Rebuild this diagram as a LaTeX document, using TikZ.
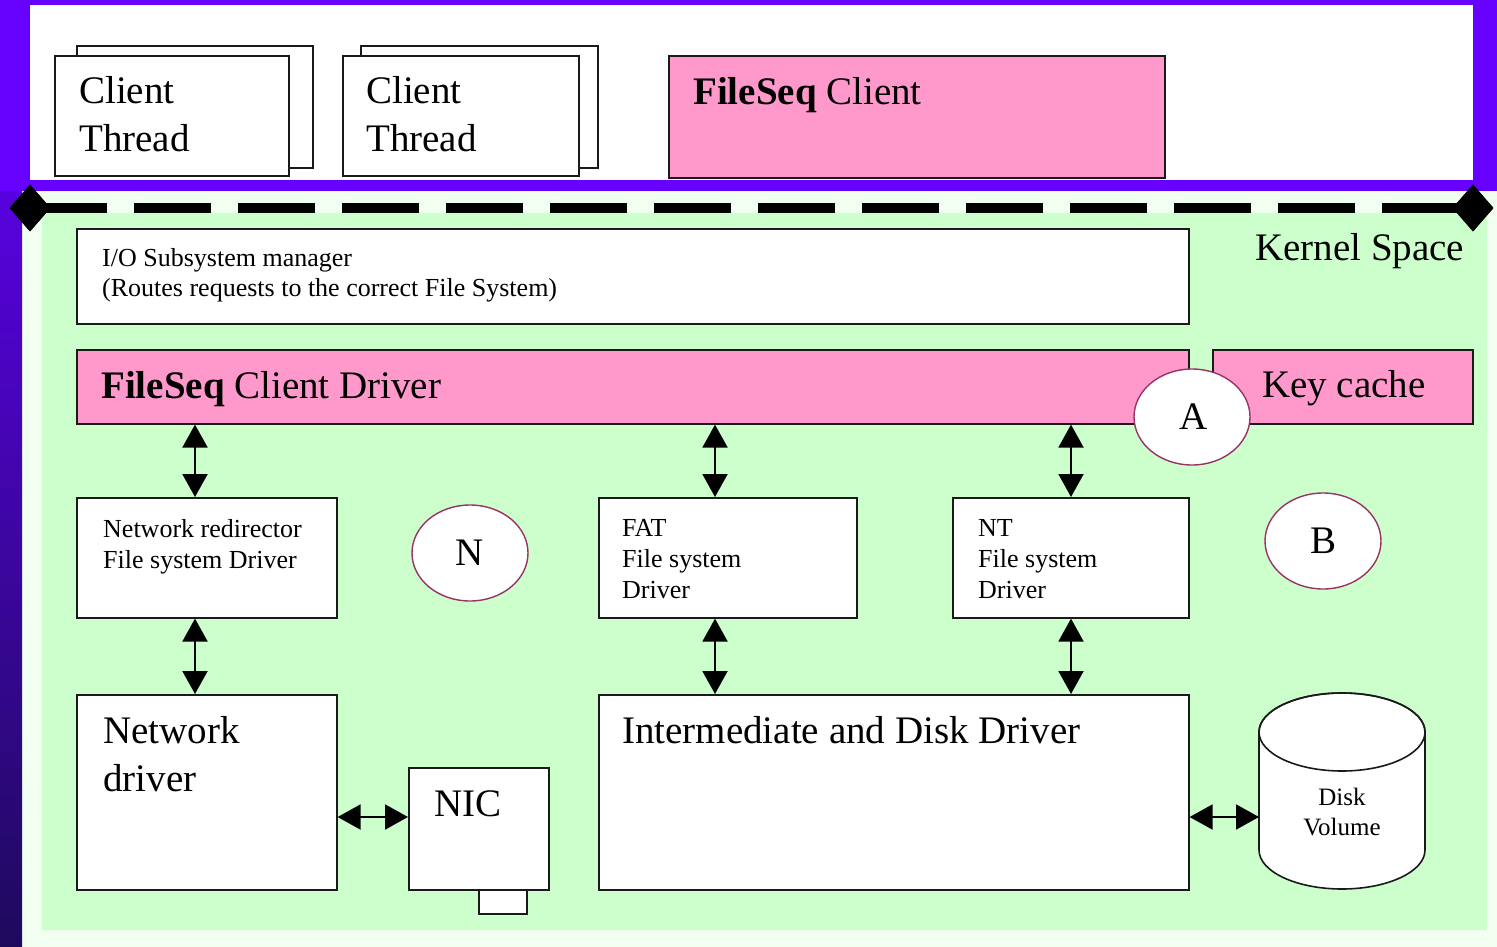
\documentclass[tikz,border=0pt]{standalone}
\usepackage{fontspec}
\setmainfont{Liberation Serif}
\usetikzlibrary{arrows.meta,shapes.geometric}
\definecolor{purp}{HTML}{6600FF}
\definecolor{darkp}{HTML}{1E0A5C}
\definecolor{pale}{HTML}{F0FFF0}
\definecolor{kgreen}{HTML}{CCFFCC}
\definecolor{pinkf}{HTML}{FF99CC}
\definecolor{maroonb}{HTML}{993366}
\definecolor{edgec}{HTML}{1A1A1A}
\begin{document}
\begin{tikzpicture}[x=1pt,y=-1pt,
 box/.style={draw=edgec,line width=1.6pt,fill=white,rectangle,inner sep=0pt,anchor=north west},
 pbox/.style={box,fill=pinkf},
 oval/.style={draw=maroonb,line width=1.4pt,fill=white,ellipse,minimum width=116pt,minimum height=96pt,inner sep=0pt,font=\fontsize{39}{39}\selectfont},
 big/.style={anchor=base west,inner sep=0pt,font=\fontsize{39}{48}\selectfont},
 small/.style={anchor=base west,inner sep=0pt,font=\fontsize{26}{31}\selectfont},
 dbl/.style={{Triangle[width=25pt,length=23pt]}-{Triangle[width=25pt,length=23pt]},line width=2pt,black},
 dia/.style={diamond,fill=black,minimum width=41pt,minimum height=47pt,inner sep=0pt},
 dashline/.style={line width=10pt,dash pattern=on 77pt off 27pt},
]
\useasboundingbox (0,0) rectangle (1497,947);
% backgrounds
\fill[pale] (0,0) rectangle (1497,947);
\shade[top color=purp,bottom color=darkp] (0,0) rectangle (22,947);
\fill[purp] (0,0) rectangle (1497,191);
\fill[white] (30,5) rectangle (1473,180);
\fill[kgreen] (42,213) rectangle (1487,930);

% kernel/user boundary
\node[dia] (dl) at (30,208) {};
\node[dia] (dr) at (1473,208) {};
\draw[dashline] (dl.center) -- (dr.center);
\node[dia] at (dl.center) {};
\node[dia] at (dr.center) {};

% user space
\node[box,minimum width=236pt,minimum height=122pt] (ct1b) at (76,45) {};
\node[box,minimum width=234pt,minimum height=120pt] (ct1) at (54,55) {};
\node[big] (ct1t1) at (79,104) {Client};
\node[big] (ct1t2) at (79,152) {Thread};
\node[box,minimum width=237pt,minimum height=122pt] (ct2b) at (360,45) {};
\node[box,minimum width=236pt,minimum height=120pt] (ct2) at (342,55) {};
\node[big] (ct2t1) at (366,104) {Client};
\node[big] (ct2t2) at (366,152) {Thread};
\node[pbox,minimum width=496pt,minimum height=122pt] (fsc) at (668,55) {};
\node[big] (fsct) at (693,105) {\textbf{FileSeq} Client};

% kernel space
\node[big] (ks) at (1255,260) {Kernel Space};
\node[box,minimum width=1112pt,minimum height=95pt] (io) at (76,228) {};
\node[small] (iot1) at (102,266) {I/O Subsystem manager};
\node[small] (iot2) at (102,296) {(Routes requests to the correct File System)};

\node[pbox,minimum width=1112pt,minimum height=74pt] (fcd) at (76,349) {};
\node[big] (fcdt) at (101,398) {\textbf{FileSeq} Client Driver};
\node[pbox,minimum width=260pt,minimum height=74pt] (kc) at (1212,349) {};
\node[big] (kct) at (1262,397) {Key cache};
\node[oval] (A) at (1192,417) {\hspace*{4pt}A};

\node[box,minimum width=260pt,minimum height=120pt] (nrd) at (76,497) {};
\node[small] (nrdt1) at (103,537) {Network redirector};
\node[small] (nrdt2) at (103,568) {File system Driver};
\node[oval] (N) at (470,553) {N};

\node[box,minimum width=258pt,minimum height=120pt] (fat) at (598,497) {};
\node[small] (fatt1) at (622,536) {FAT};
\node[small] (fatt2) at (622,567) {File system};
\node[small] (fatt3) at (622,598) {Driver};

\node[box,minimum width=236pt,minimum height=120pt] (nt) at (952,497) {};
\node[small] (ntt1) at (978,536) {NT};
\node[small] (ntt2) at (978,567) {File system};
\node[small] (ntt3) at (978,598) {Driver};
\node[oval] (B) at (1323,541) {B};

\node[box,minimum width=260pt,minimum height=195pt] (nd) at (76,694) {};
\node[big] (ndt1) at (103,743) {Network};
\node[big] (ndt2) at (103,791) {driver};

\node[box,minimum width=48pt,minimum height=24pt] (tab) at (478,889) {};
\node[box,minimum width=140pt,minimum height=122pt] (nic) at (408,767) {};
\node[big] (nict) at (434,816) {NIC};

\node[box,minimum width=590pt,minimum height=195pt] (idd) at (598,694) {};
\node[big] (iddt) at (622,743) {Intermediate and Disk Driver};

% disk volume cylinder
\draw[draw=edgec,line width=1.6pt,fill=white] (1259,732) -- (1259,850)
  arc[start angle=180,end angle=360,x radius=83pt,y radius=39pt] -- (1425,732)
  arc[start angle=0,end angle=180,x radius=83pt,y radius=39pt] -- cycle;
\draw[draw=edgec,line width=1.6pt] (1342,732) ellipse[x radius=83pt,y radius=39pt];
\coordinate (dk) at (1259,817);
\node[anchor=base,inner sep=0pt,font=\fontsize{25}{30}\selectfont] (dvt1) at (1342,805) {Disk};
\node[anchor=base,inner sep=0pt,font=\fontsize{25}{30}\selectfont] (dvt2) at (1342,835) {Volume};

% connectors
\coordinate (c1) at (195,0);
\coordinate (c2) at (715,0);
\coordinate (c3) at (1071,0);
\coordinate (r1) at (0,817);
\draw[dbl] (fcd.south -| c1) -- (nrd.north -| c1);
\draw[dbl] (fcd.south -| c2) -- (fat.north -| c2);
\draw[dbl] (fcd.south -| c3) -- (nt.north -| c3);
\draw[dbl] (nrd.south -| c1) -- (nd.north -| c1);
\draw[dbl] (fat.south -| c2) -- (idd.north -| c2);
\draw[dbl] (nt.south -| c3) -- (idd.north -| c3);
\draw[dbl] (nd.east |- r1) -- (nic.west |- r1);
\draw[dbl] (idd.east |- r1) -- (dk);
\end{tikzpicture}
\end{document}
